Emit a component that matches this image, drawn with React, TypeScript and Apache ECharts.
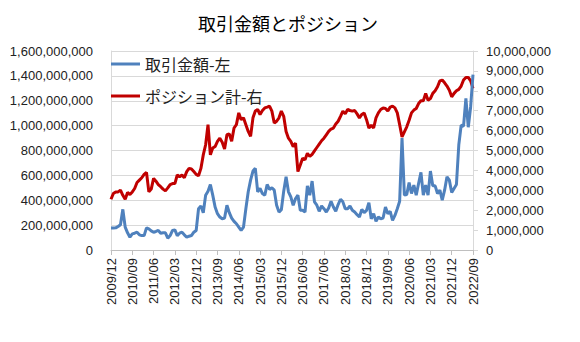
import React, { useEffect, useRef } from "react";
import * as echarts from "echarts";

const titleText = "取引金額とポジション";
const seriesNames = ["取引金額-左", "ポジション計-右"];

// monthly categories 2009/12 .. 2022/09
const startYear = 2009;
const startMonth = 12;
const monthCount = 154;
const categories: string[] = [];
for (let i = 0; i < monthCount; i++) {
  const m0 = startMonth - 1 + i;
  const y = startYear + Math.floor(m0 / 12);
  const m = (m0 % 12) + 1;
  categories.push(`${y}/${m < 10 ? "0" + m : m}`);
}

// 取引金額 (millions of yen), left axis
const tradeAmountM = [
  176, 176, 178, 189, 203, 327, 184, 138, 103, 130,
  135, 143, 122, 116, 116, 178, 170, 154, 143, 149,
  157, 135, 138, 138, 95, 116, 157, 162, 116, 135,
  143, 122, 103, 111, 116, 143, 157, 332, 354, 300,
  441, 473, 527, 441, 346, 292, 265, 251, 257, 360,
  300, 257, 230, 211, 184, 157, 184, 332, 468, 562,
  635, 657, 468, 495, 454, 441, 527, 487, 500, 481,
  360, 305, 324, 473, 589, 468, 427, 360, 414, 441,
  319, 319, 305, 516, 441, 554, 387, 360, 311, 354,
  332, 305, 338, 392, 346, 311, 365, 408, 387, 332,
  332, 354, 319, 305, 284, 265, 327, 300, 319, 381,
  251, 292, 230, 265, 251, 257, 346, 292, 311, 238,
  278, 332, 392, 900, 441, 446, 543, 454, 522, 441,
  535, 624, 441, 522, 441, 635, 516, 516, 454, 481,
  400, 481, 589, 562, 462, 495, 527, 846, 1003, 995,
  1219, 987, 1150, 1410,
];

// ポジション計 (millions), right axis
const positionM = [
  2.55, 2.84, 2.92, 2.92, 3.01, 2.75, 2.55, 2.89, 2.79, 2.92,
  3.09, 3.39, 3.51, 3.63, 3.80, 3.90, 2.92, 3.06, 3.60, 3.46,
  3.29, 3.18, 3.06, 2.97, 3.12, 3.29, 3.34, 3.34, 3.77, 3.68,
  3.77, 3.63, 3.94, 4.10, 4.07, 3.94, 3.80, 3.73, 4.10, 4.78,
  5.29, 6.30, 4.78, 5.12, 5.20, 5.46, 5.62, 5.42, 5.08, 5.79,
  5.83, 5.46, 6.13, 6.30, 6.89, 6.55, 6.64, 6.30, 5.96, 5.71,
  6.64, 6.98, 7.06, 6.81, 7.01, 7.14, 7.18, 7.23, 6.98, 6.38,
  6.47, 6.64, 6.98, 6.72, 5.96, 5.62, 5.46, 5.20, 5.37, 3.94,
  4.27, 4.61, 4.53, 4.86, 4.70, 4.81, 4.98, 5.15, 5.32, 5.49,
  5.62, 5.79, 5.96, 6.08, 6.13, 6.33, 6.47, 6.72, 6.98, 6.84,
  7.06, 7.01, 6.98, 7.01, 6.84, 6.64, 6.81, 6.89, 6.55, 6.13,
  6.27, 6.13, 6.64, 6.89, 7.06, 7.14, 7.11, 6.98, 7.18, 7.23,
  7.14, 6.89, 6.30, 5.68, 5.94, 6.19, 6.52, 6.89, 7.03, 7.11,
  7.36, 7.50, 7.50, 7.87, 7.53, 7.61, 7.87, 8.00, 8.20, 8.50,
  8.54, 8.40, 8.24, 8.03, 7.70, 7.87, 8.00, 8.07, 8.24, 8.54,
  8.67, 8.67, 8.50, 8.12,
];

const tradeAmount = tradeAmountM.map((v) => v * 1e6);
const position = positionM.map((v) => v * 1e6);

const fmt = (v: number) => Math.round(v).toLocaleString("en-US");

export default function App() {
  const ref = useRef<HTMLDivElement>(null);
  useEffect(() => {
    if (!ref.current) return;
    const chart = echarts.init(ref.current, undefined, { renderer: "svg" });
    const labelFont = "'Liberation Sans', Arial, sans-serif";
    const cjkFont = "'Noto Sans CJK JP', 'Noto Sans', sans-serif";
    chart.setOption({
      animation: false,
      backgroundColor: "#ffffff",
      title: {
        text: titleText,
        left: 193,
        top: 9,
        textStyle: { fontFamily: cjkFont, fontSize: 18, fontWeight: "normal", color: "#000" },
      },
      legend: {
        data: seriesNames,
        orient: "vertical",
        left: 111,
        top: 56,
        padding: 0,
        itemGap: 16,
        itemWidth: 29,
        itemHeight: 3,
        icon: "rect",
        textStyle: { fontFamily: cjkFont, fontSize: 16, color: "#222" },
      },
      grid: { left: 111, right: 107, top: 51, bottom: 92, containLabel: false },
      xAxis: {
        type: "category",
        data: categories,
        boundaryGap: false,
        axisLine: { show: true, lineStyle: { color: "#BFBFBF", width: 1 } },
        axisTick: { show: true, interval: 8, length: 5, lineStyle: { color: "#BFBFBF" } },
        axisLabel: {
          interval: 8,
          rotate: 90,
          margin: 8,
          fontFamily: labelFont,
          fontSize: 13,
          color: "#222",
        },
        splitLine: { show: false },
      },
      yAxis: [
        {
          type: "value",
          min: 0,
          max: 1.6e9,
          interval: 2e8,
          position: "left",
          axisLine: { show: true, lineStyle: { color: "#D9D9D9" } },
          axisTick: { show: false },
          axisLabel: {
            margin: 18,
            fontFamily: labelFont,
            fontSize: 13,
            color: "#222",
            formatter: fmt,
          },
          splitLine: { show: true, lineStyle: { color: "#D9D9D9", width: 1 } },
        },
        {
          type: "value",
          min: 0,
          max: 1e7,
          interval: 1e6,
          position: "right",
          axisLine: { show: true, lineStyle: { color: "#D9D9D9" } },
          axisTick: { show: true, length: 5, lineStyle: { color: "#D9D9D9" } },
          axisLabel: {
            margin: 13,
            fontFamily: labelFont,
            fontSize: 13,
            color: "#222",
            formatter: fmt,
          },
          splitLine: { show: false },
        },
      ],
      series: [
        {
          name: seriesNames[0],
          type: "line",
          yAxisIndex: 0,
          data: tradeAmount,
          symbol: "none",
          lineStyle: { color: "#4F81BD", width: 3 },
          itemStyle: { color: "#4F81BD" },
          z: 3,
        },
        {
          name: seriesNames[1],
          type: "line",
          yAxisIndex: 1,
          data: position,
          symbol: "none",
          lineStyle: { color: "#C00000", width: 3 },
          itemStyle: { color: "#C00000" },
          z: 2,
        },
      ],
    });
    return () => chart.dispose();
  }, []);
  return <div ref={ref} style={{ width: 580, height: 342, position: "absolute", left: 0, top: 0 }} />;
}
